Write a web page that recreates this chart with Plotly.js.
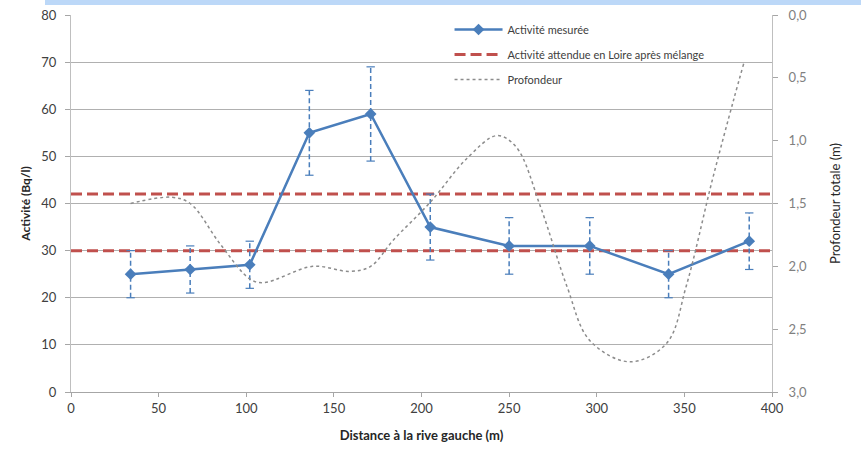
<!DOCTYPE html>
<html>
<head>
<meta charset="utf-8">
<script src="https://cdn.plot.ly/plotly-3.0.1.min.js"></script>
<style>html,body{margin:0;padding:0;background:#fff;}#chart{width:861px;height:455px;}</style>
</head>
<body>
<div id="chart"></div>
<script>
// Data
const distance = [34, 68, 102, 136, 171, 205, 250, 296, 341, 387];
const activite = [25, 26, 27, 55, 59, 35, 31, 31, 25, 32];
const incertitude = [5, 5, 5, 9, 10, 7, 6, 6, 5, 6];
const attendueX = [0, 400];
const attendueNiveaux = [42, 30];
// Depth profile
const profondeurX = [34, 57, 68, 85, 102, 110, 138, 159, 171, 184, 205, 226, 243, 254, 268, 283, 296, 319, 340, 351, 366, 378, 384];
const profondeur = [1.5, 1.45, 1.5, 1.82, 2.1, 2.13, 2.0, 2.04, 2.0, 1.79, 1.49, 1.14, 0.96, 1.05, 1.53, 2.16, 2.59, 2.76, 2.61, 2.16, 1.31, 0.68, 0.38];

const xTicks = [0, 50, 100, 150, 200, 250, 300, 350, 400];

// Build error-bar segments from the data
const ebX = [], ebY = [], capX = [], capY = [];
distance.forEach((d, i) => {
  ebX.push(d, d, null);
  ebY.push(activite[i] - incertitude[i], activite[i] + incertitude[i], null);
  capX.push(d, d);
  capY.push(activite[i] - incertitude[i], activite[i] + incertitude[i]);
});

// Expected-level lines
const attX = [], attY = [];
attendueNiveaux.forEach((v, k) => {
  if (k > 0) { attX.push(null); attY.push(null); }
  attX.push(attendueX[0], attendueX[1]);
  attY.push(v, v);
});

const blue = '#4a7ebb';
const traces = [
  {
    x: attX, y: attY, mode: 'lines', name: 'Activité attendue en Loire après mélange',
    line: {color: '#c0504d', width: 3, dash: '11px,5px'}, legendrank: 2, legendgroup: 'b',
    hoverinfo: 'skip'
  },
  {
    x: ebX, y: ebY, mode: 'lines', showlegend: false,
    line: {color: blue, width: 1.5, dash: '5px,3px'}, hoverinfo: 'skip'
  },
  {
    x: capX, y: capY, mode: 'markers', showlegend: false,
    marker: {symbol: 'line-ew-open', size: 6, color: blue, line: {color: blue, width: 1.2}}, hoverinfo: 'skip'
  },
  {
    x: distance, y: activite, mode: 'lines+markers', name: 'Activité mesurée',
    line: {color: blue, width: 2.5}, marker: {symbol: 'diamond', size: 9, color: blue},
    legendrank: 1, legendgroup: 'a'
  },
  {
    x: profondeurX, y: profondeur, yaxis: 'y2', mode: 'lines', name: 'Profondeur',
    line: {color: '#8c8c8c', width: 1.5, dash: 'dot', shape: 'spline', smoothing: 1},
    legendrank: 3, legendgroup: 'c'
  }
];

const font = 'Lato, "Open Sans", sans-serif';
const layout = {
  width: 861, height: 455,
  margin: {l: 71, r: 89, t: 15, b: 63},
  paper_bgcolor: '#ffffff', plot_bgcolor: '#ffffff',
  separators: ', ',
  font: {family: font, size: 12, color: '#404040'},
  showlegend: true,
  legend: {
    x: 0.54, y: 1.0, xanchor: 'left', yanchor: 'top',
    bgcolor: 'rgba(0,0,0,0)', borderwidth: 0,
    font: {family: font, size: 11, color: '#404040'},
    itemwidth: 48, tracegroupgap: 6
  },
  xaxis: {
    range: [0, 400], tickvals: xTicks, ticks: 'outside', ticklen: 4, tickcolor: '#a6a6a6',
    showline: true, linecolor: '#a6a6a6', linewidth: 1, showgrid: false, zeroline: false,
    tickfont: {size: 13, color: '#404040'},
    title: {text: '<b>Distance à la rive gauche (m)</b>', font: {size: 13, color: '#262626'}, standoff: 16}
  },
  yaxis: {
    range: [0, 80], dtick: 10, ticks: 'outside', ticklen: 5, tickcolor: '#a6a6a6',
    showline: true, linecolor: '#bfbfbf', showgrid: true, gridcolor: '#b0b0b0', gridwidth: 1,
    zeroline: false, tickfont: {size: 13, color: '#404040'}, ticklabelstandoff: 6,
    title: {text: '<b>Activité (Bq/l)</b>', font: {size: 12, color: '#262626'}, standoff: 8}
  },
  yaxis2: {
    overlaying: 'y', side: 'right', range: [3, 0], dtick: 0.5, tickformat: '.1f',
    ticks: 'outside', ticklen: 5, tickcolor: '#a6a6a6', showline: true, linecolor: '#bfbfbf',
    showgrid: false, zeroline: false, tickfont: {size: 13, color: '#808080'}, ticklabelstandoff: 8,
    title: {text: 'Profondeur totale (m)', font: {size: 13, color: '#262626'}, standoff: 24}
  },
  shapes: [
    {type: 'rect', xref: 'paper', yref: 'paper', x0: -0.0371, x1: 1.13, y0: 1.0265, y1: 1.05,
     fillcolor: '#bcd8f8', line: {width: 0}, layer: 'below'}
  ]
};

Plotly.newPlot('chart', traces, layout, {displayModeBar: false, staticPlot: true});
</script>
</body>
</html>
